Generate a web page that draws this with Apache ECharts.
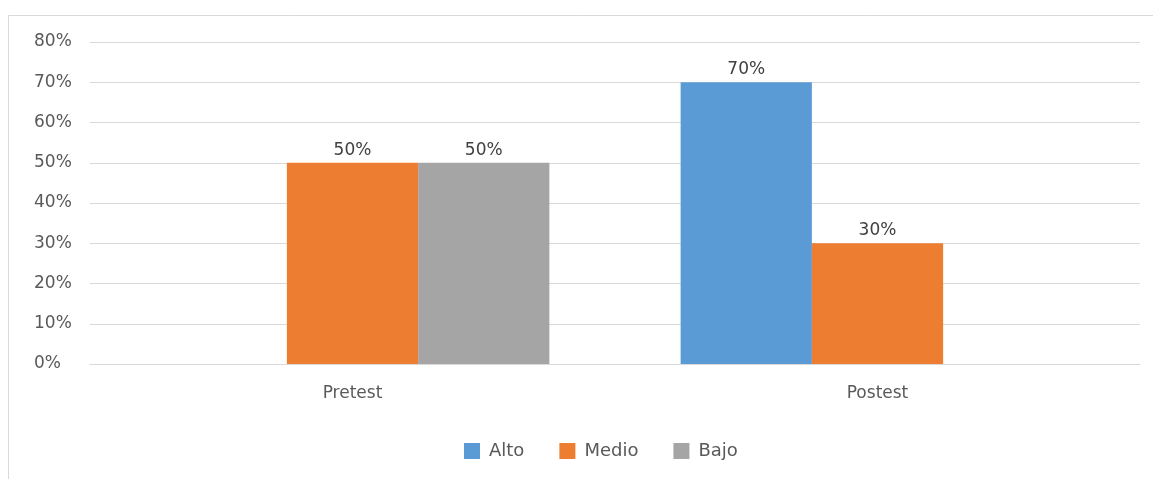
<!DOCTYPE html>
<html>
<head>
<meta charset="utf-8">
<script src="https://cdn.jsdelivr.net/npm/echarts@6/dist/echarts.min.js"></script>
<style>
html,body{margin:0;padding:0;background:#fff;}
#c{width:1153px;height:479px;}
</style>
</head>
<body>
<div id="c"></div>
<script>
const categories = ['Pretest', 'Postest'];
const seriesNames = ['Alto', 'Medio', 'Bajo'];
const alto = [null, 70];
const medio = [50, 30];
const bajo = [50, null];
const yTicks = [0, 10, 20, 30, 40, 50, 60, 70, 80];
const colors = ['#5b9bd5', '#ed7d31', '#a5a5a5'];

const FONT = '"DejaVu Sans", "Open Sans", sans-serif';
const chart = echarts.init(document.getElementById('c'), null, {renderer: 'canvas'});
const values = [alto, medio, bajo];
chart.setOption({
  animation: false,
  graphic: [{
    type: 'rect', shape: {x: 8.5, y: 15.5, width: 1200, height: 500},
    style: {fill: 'none', stroke: '#d9d9d9', lineWidth: 1}, silent: true, z: -10
  }],
  grid: {left: 90, right: 13, top: 42, bottom: 115, containLabel: false},
  legend: {
    data: seriesNames, left: 464, top: 442, padding: 0, itemWidth: 16, itemHeight: 16, itemGap: 35,
    icon: 'rect',
    textStyle: {fontFamily: FONT, fontSize: 18, color: '#595959', padding: [0, 0, 0, 4]}
  },
  xAxis: {
    type: 'category', data: categories,
    axisLine: {show: true, lineStyle: {color: '#d9d9d9'}},
    axisTick: {show: false},
    axisLabel: {fontFamily: FONT, fontSize: 17, color: '#595959', margin: 21}
  },
  yAxis: {
    type: 'value', min: yTicks[0], max: yTicks[yTicks.length - 1], interval: 10,
    axisLine: {show: false}, axisTick: {show: false},
    splitLine: {lineStyle: {color: '#d9d9d9'}},
    axisLabel: {fontFamily: FONT, fontSize: 17, color: '#595959', margin: 56, align: 'left', formatter: v => v + '%'}
  },
  series: seriesNames.map((n, i) => ({
    name: n, type: 'bar', data: values[i], barGap: '0%', barCategoryGap: '25%',
    itemStyle: {color: colors[i]},
    label: {show: true, position: 'top', distance: 4, fontFamily: FONT, fontSize: 17, color: '#404040', formatter: p => p.value + '%'}
  }))
});
</script>
</body>
</html>
